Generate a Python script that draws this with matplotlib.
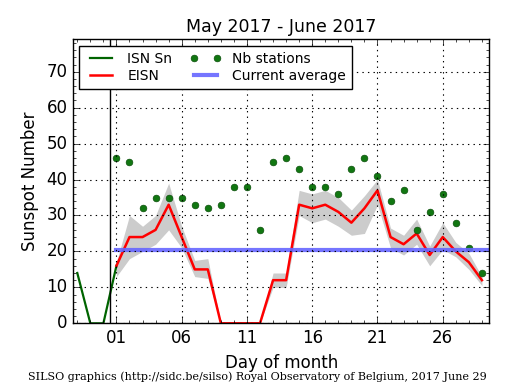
import numpy as np
import matplotlib
matplotlib.use("Agg")
import matplotlib.pyplot as plt
from matplotlib.ticker import MultipleLocator, FixedLocator

# --------------------------------------------------
# Data
# --------------------------------------------------
isn_days = [-2, -1, 0, 1]
isn_sn = [14, 0, 0, 16]

days = list(range(1, 30))
eisn = [16, 24, 24, 26, 33, 24, 15, 15, 0, 0, 0, 0, 12, 12, 33,
        32, 33, 31, 28, 32, 37, 24, 22, 25, 19, 24, 20, 17, 12]
eisn_low = [13, 18, 20, 22, 26, 21, 13, 12.5, 0, 0, 0, 0, 10, 10, 30,
            28, 29, 27, 24.5, 25, 33, 21, 19, 22, 16, 20.5, 18.5, 15, 10.5]
eisn_high = [17, 30, 27, 30, 39, 27, 17.5, 18, 0, 0, 0, 0, 14, 14, 37,
             36, 37, 35, 31.5, 35.5, 40, 26.5, 24.5, 29, 21.5, 28, 22.5, 19.5, 13]
nb_stations = [46, 45, 32, 35, 35, 35, 33, 32, 33, 38, 38, 26, 45, 46, 43,
               38, 38, 36, 43, 46, 41, 34, 37, 26, 31, 36, 28, 21, 14]
current_avg = 20.3

tick_days = [1, 6, 11, 16, 21, 26]
tick_labels = ["01", "06", "11", "16", "21", "26"]

# --------------------------------------------------
# Plot
# --------------------------------------------------
plt.style.use("classic")
plt.rcParams["font.family"] = "DejaVu Sans"

fig = plt.figure(figsize=(5.15, 3.9), dpi=100, facecolor="white")
ax = fig.add_axes([0.1417, 0.171, 0.8085, 0.728])

ax.fill_between(days, eisn_low, eisn_high, color="0.8", lw=0)
ax.plot(isn_days, isn_sn, color="#006400", lw=1.6, label="ISN Sn")
ax.plot(days, eisn, color="red", lw=1.8, label="EISN")
ax.plot(days, nb_stations, "o", color="#117711", mec="#0b4f0b", ms=4.8,
        label="Nb stations")
ax.plot([days[0], 29.57], [current_avg, current_avg], color="#6666ff",
        lw=3, alpha=0.9, label="Current average")
ax.axvline(0.5, color="black", lw=1)

ax.set_xlim(-2.33, 29.57)
ax.set_ylim(0, 79)
ax.xaxis.set_major_locator(FixedLocator(tick_days))
ax.set_xticklabels(tick_labels)
ax.xaxis.set_minor_locator(MultipleLocator(1))
ax.yaxis.set_major_locator(MultipleLocator(10))
ax.yaxis.set_minor_locator(MultipleLocator(2))
ax.tick_params(labelsize=12)
ax.grid(True, which="major", color="black", linestyle=":", lw=0.8)

ax.set_title("May 2017 - June 2017", fontsize=12.5)
ax.set_xlabel("Day of month", fontsize=12)
ax.set_ylabel("Sunspot Number", fontsize=12)

leg = ax.legend(loc="upper left", ncol=2, fontsize=10, numpoints=2,
                handlelength=2.2, borderaxespad=0.45, columnspacing=1.3,
                labelspacing=0.2, handletextpad=0.8, borderpad=0.45)
leg.get_frame().set_linewidth(1)

fig.text(0.5, 0.025, "SILSO graphics (http://sidc.be/silso) Royal Observatory of Belgium, 2017 June 29",
         ha="center", fontsize=8, family="DejaVu Serif")

fig.savefig("out.png", dpi=100, facecolor="white")
